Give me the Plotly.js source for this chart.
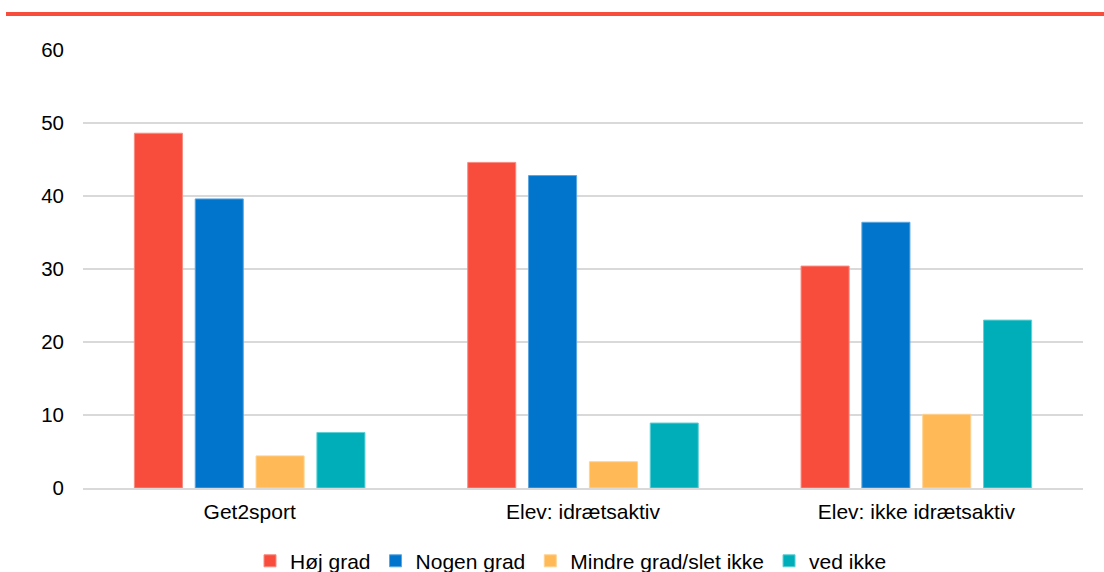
<!DOCTYPE html>
<html>
<head>
<meta charset="utf-8">
<script src="https://cdn.plot.ly/plotly-3.0.1.min.js"></script>
<style>html,body{margin:0;padding:0;background:#fff;}#chart{width:1104px;height:572px;}</style>
</head>
<body>
<div id="chart"></div>
<script>
const categories = ["Get2sport", "Elev: idrætsaktiv", "Elev: ikke idrætsaktiv"];
const seriesNames = ["Høj grad", "Nogen grad", "Mindre grad/slet ikke", "ved ikke"];
const hojGrad = [48.6, 44.6, 30.4];
const nogenGrad = [39.6, 42.8, 36.4];
const mindreGrad = [4.4, 3.6, 10.1];
const vedIkke = [7.6, 8.9, 23.0];
const colors = ["#F84C3C", "#0075CB", "#FFB957", "#00AEB9"];
const lineColors = ["#FA8A7F", "#5AA6E0", "#FFD391", "#5FD0D6"];

const values = [hojGrad, nogenGrad, mindreGrad, vedIkke];
const traces = values.map((v, i) => ({
  type: "bar",
  name: seriesNames[i],
  x: categories,
  y: v,
  marker: {color: colors[i], line: {color: lineColors[i], width: 1}},
  hoverinfo: "y+name"
}));

const layout = {
  width: 1104,
  height: 572,
  margin: {l: 83, r: 21, t: 50, b: 84, autoexpand: false},
  paper_bgcolor: "#ffffff",
  plot_bgcolor: "#ffffff",
  font: {family: "Liberation Sans, Arial, sans-serif", size: 21, color: "#000000"},
  barmode: "group",
  bargap: 0.27,
  bargroupgap: 0.21,
  showlegend: true,
  legend: {
    orientation: "h",
    x: 0.488, xanchor: "center",
    yref: "container",
    y: 0.019, yanchor: "middle",
    font: {size: 21, color: "#000000"},
    itemwidth: 30,
    tracegroupgap: 0
  },
  xaxis: {
    showgrid: false,
    showline: true,
    linecolor: "#d9d9d9",
    linewidth: 2,
    ticks: "",
    tickfont: {size: 21},
    ticklabelstandoff: 4
  },
  yaxis: {
    range: [0, 60],
    dtick: 10,
    showgrid: true,
    gridcolor: "#d9d9d9",
    gridwidth: 2,
    zeroline: false,
    showline: false,
    ticks: "",
    tickfont: {size: 20.5},
    ticklabelstandoff: 18
  },
  shapes: [{
    type: "line",
    xref: "paper", yref: "paper",
    x0: -0.077, x1: 1.03,
    y0: 1.082, y1: 1.082,
    line: {color: "#F84C3C", width: 4}
  }]
};

Plotly.newPlot("chart", traces, layout, {displayModeBar: false, staticPlot: true});
</script>
</body>
</html>
